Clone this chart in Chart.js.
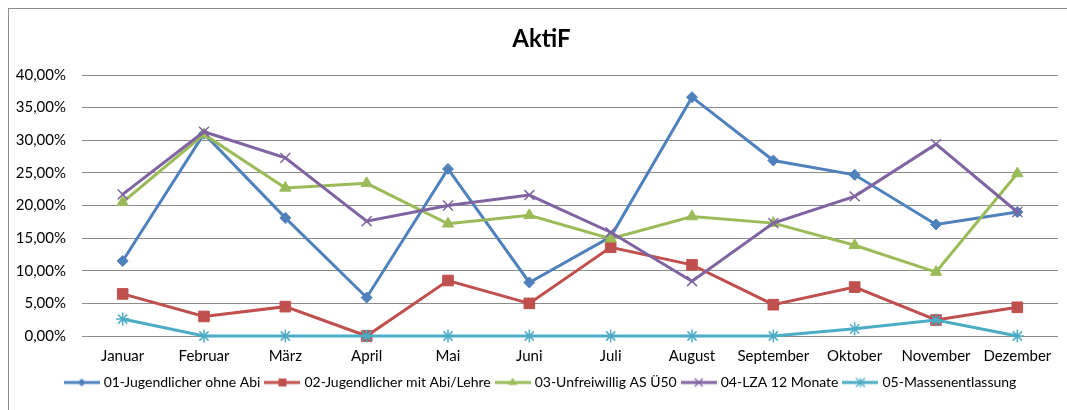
<!DOCTYPE html>
<html><head><meta charset="utf-8">
<script src="https://cdn.jsdelivr.net/npm/chart.js@4/dist/chart.umd.min.js"></script>
<style>
html,body{margin:0;padding:0;background:#fff;overflow:hidden;}
#wrap{position:relative;width:1067px;height:410px;}
#frame{position:absolute;left:8px;top:8px;width:1200px;height:600px;border:1px solid #8c8c8c;box-sizing:border-box;}
canvas{position:absolute;left:0;top:0;}
</style></head><body>
<div id="wrap"><div id="frame"></div><canvas id="c" width="1067" height="410"></canvas></div>
<script>
const chartTitle = 'AktiF';
const months = ['Januar','Februar','März','April','Mai','Juni','Juli','August','September','Oktober','November','Dezember'];
const seriesNames = ['01-Jugendlicher ohne Abi','02-Jugendlicher mit Abi/Lehre','03-Unfreiwillig AS Ü50','04-LZA 12 Monate','05-Massenentlassung'];
const s01 = [11.5, 31.0, 18.1, 5.9, 25.6, 8.2, 15.2, 36.6, 26.9, 24.7, 17.1, 19.0];
const s02 = [6.45, 3.0, 4.5, 0, 8.5, 5.0, 13.6, 10.9, 4.8, 7.5, 2.45, 4.4];
const s03 = [20.5, 30.9, 22.7, 23.4, 17.2, 18.5, 14.9, 18.3, 17.3, 13.9, 9.8, 24.9];
const s04 = [21.7, 31.3, 27.3, 17.6, 20.0, 21.6, 15.9, 8.4, 17.3, 21.4, 29.4, 19.0];
const s05 = [2.6, 0, 0, 0, 0, 0, 0, 0, 0, 1.1, 2.45, 0];
const yTickLabels = ['0,00%','5,00%','10,00%','15,00%','20,00%','25,00%','30,00%','35,00%','40,00%'];

const colors = ['#4F81BD','#C0504D','#9BBB59','#8064A2','#4BACC6'];
const styles = ['rectRot','rect','triangle','crossRot','star'];
const radii = [5.5, 7.5, 6.5, 7, 6.5];
const pbw = [1, 1, 1, 1.5, 1.5];
const FONT = 'Lato, "Noto Sans", sans-serif';

function legendIcon(color, style){
  const c = document.createElement('canvas');
  c.width = 36; c.height = 14;
  const ctx = c.getContext('2d');
  ctx.strokeStyle = color; ctx.fillStyle = color;
  ctx.lineWidth = 3;
  ctx.beginPath(); ctx.moveTo(0,7); ctx.lineTo(36,7); ctx.stroke();
  const x = 18, y = 7;
  ctx.lineWidth = 1.3;
  ctx.beginPath();
  if (style === 'rectRot') { const r=4; ctx.moveTo(x,y-r); ctx.lineTo(x+r,y); ctx.lineTo(x,y+r); ctx.lineTo(x-r,y); ctx.closePath(); ctx.fill(); }
  else if (style === 'rect') { const r=4; ctx.rect(x-r,y-r,2*r,2*r); ctx.fill(); }
  else if (style === 'triangle') { const r=5; ctx.moveTo(x,y-r); ctx.lineTo(x+r*0.866,y+r/2); ctx.lineTo(x-r*0.866,y+r/2); ctx.closePath(); ctx.fill(); }
  else if (style === 'crossRot') { const r=4; ctx.moveTo(x-r,y-r); ctx.lineTo(x+r,y+r); ctx.moveTo(x+r,y-r); ctx.lineTo(x-r,y+r); ctx.stroke(); }
  else { const r=4.5; ctx.moveTo(x,y-r); ctx.lineTo(x,y+r); ctx.moveTo(x-r,y-r); ctx.lineTo(x+r,y+r); ctx.moveTo(x+r,y-r); ctx.lineTo(x-r,y+r); ctx.stroke(); }
  return c;
}

const allSeries = [s01, s02, s03, s04, s05];
const datasets = allSeries.map((d, i) => ({
  label: seriesNames[i],
  data: d,
  borderColor: colors[i],
  backgroundColor: colors[i],
  borderWidth: 3,
  pointStyle: styles[i],
  pointRadius: radii[i],
  pointBorderWidth: pbw[i],
  pointBackgroundColor: colors[i],
  pointBorderColor: colors[i],
  tension: 0,
  clip: false,
  order: 5 - i
}));
const icons = colors.map((c, i) => legendIcon(c, styles[i]));

const noLabelClip = {
  id: 'noLabelClip',
  afterLayout(chart) {
    const y = chart.scales.y;
    if (y) { y._computeLabelArea = function () { return undefined; }; }
  }
};

new Chart(document.getElementById('c'), {
  type: 'line',
  data: { labels: months, datasets },
  plugins: [noLabelClip],
  options: {
    responsive: false,
    animation: false,
    devicePixelRatio: 1,
    layout: { padding: { left: 25, right: 9, top: 0, bottom: 10.5 } },
    plugins: {
      title: {
        display: true, text: chartTitle, color: '#000',
        font: { family: FONT, size: 24, weight: 'bold' },
        padding: { top: 25, bottom: 21.2 }
      },
      legend: {
        position: 'bottom',
        labels: {
          usePointStyle: true, pointStyleWidth: 30, boxHeight: 13, padding: 7,
          color: '#000', font: { family: FONT, size: 14 },
          generateLabels: (chart) => chart.data.datasets.map((ds, i) => ({
            text: ds.label, pointStyle: icons[i], fillStyle: ds.borderColor,
            strokeStyle: ds.borderColor, lineWidth: 0, hidden: false, datasetIndex: i, fontColor: '#000'
          }))
        }
      },
      tooltip: { enabled: false }
    },
    scales: {
      x: {
        offset: true,
        grid: { display: false },
        border: { display: false },
        ticks: { color: '#000', font: { family: FONT, size: 15 }, padding: 3, maxRotation: 0, autoSkip: false },
        afterFit: (s) => { s.height = 32.5; }
      },
      y: {
        min: 0, max: 40,
        grid: { color: '#8c8c8c', lineWidth: 1, drawTicks: false },
        border: { display: false },
        ticks: { stepSize: 5, color: '#000', font: { family: FONT, size: 15 }, padding: 16,
          callback: (v, idx) => yTickLabels[idx] },
        afterFit: (s) => { s.width = 57; }
      }
    }
  }
});
</script>
</body></html>
